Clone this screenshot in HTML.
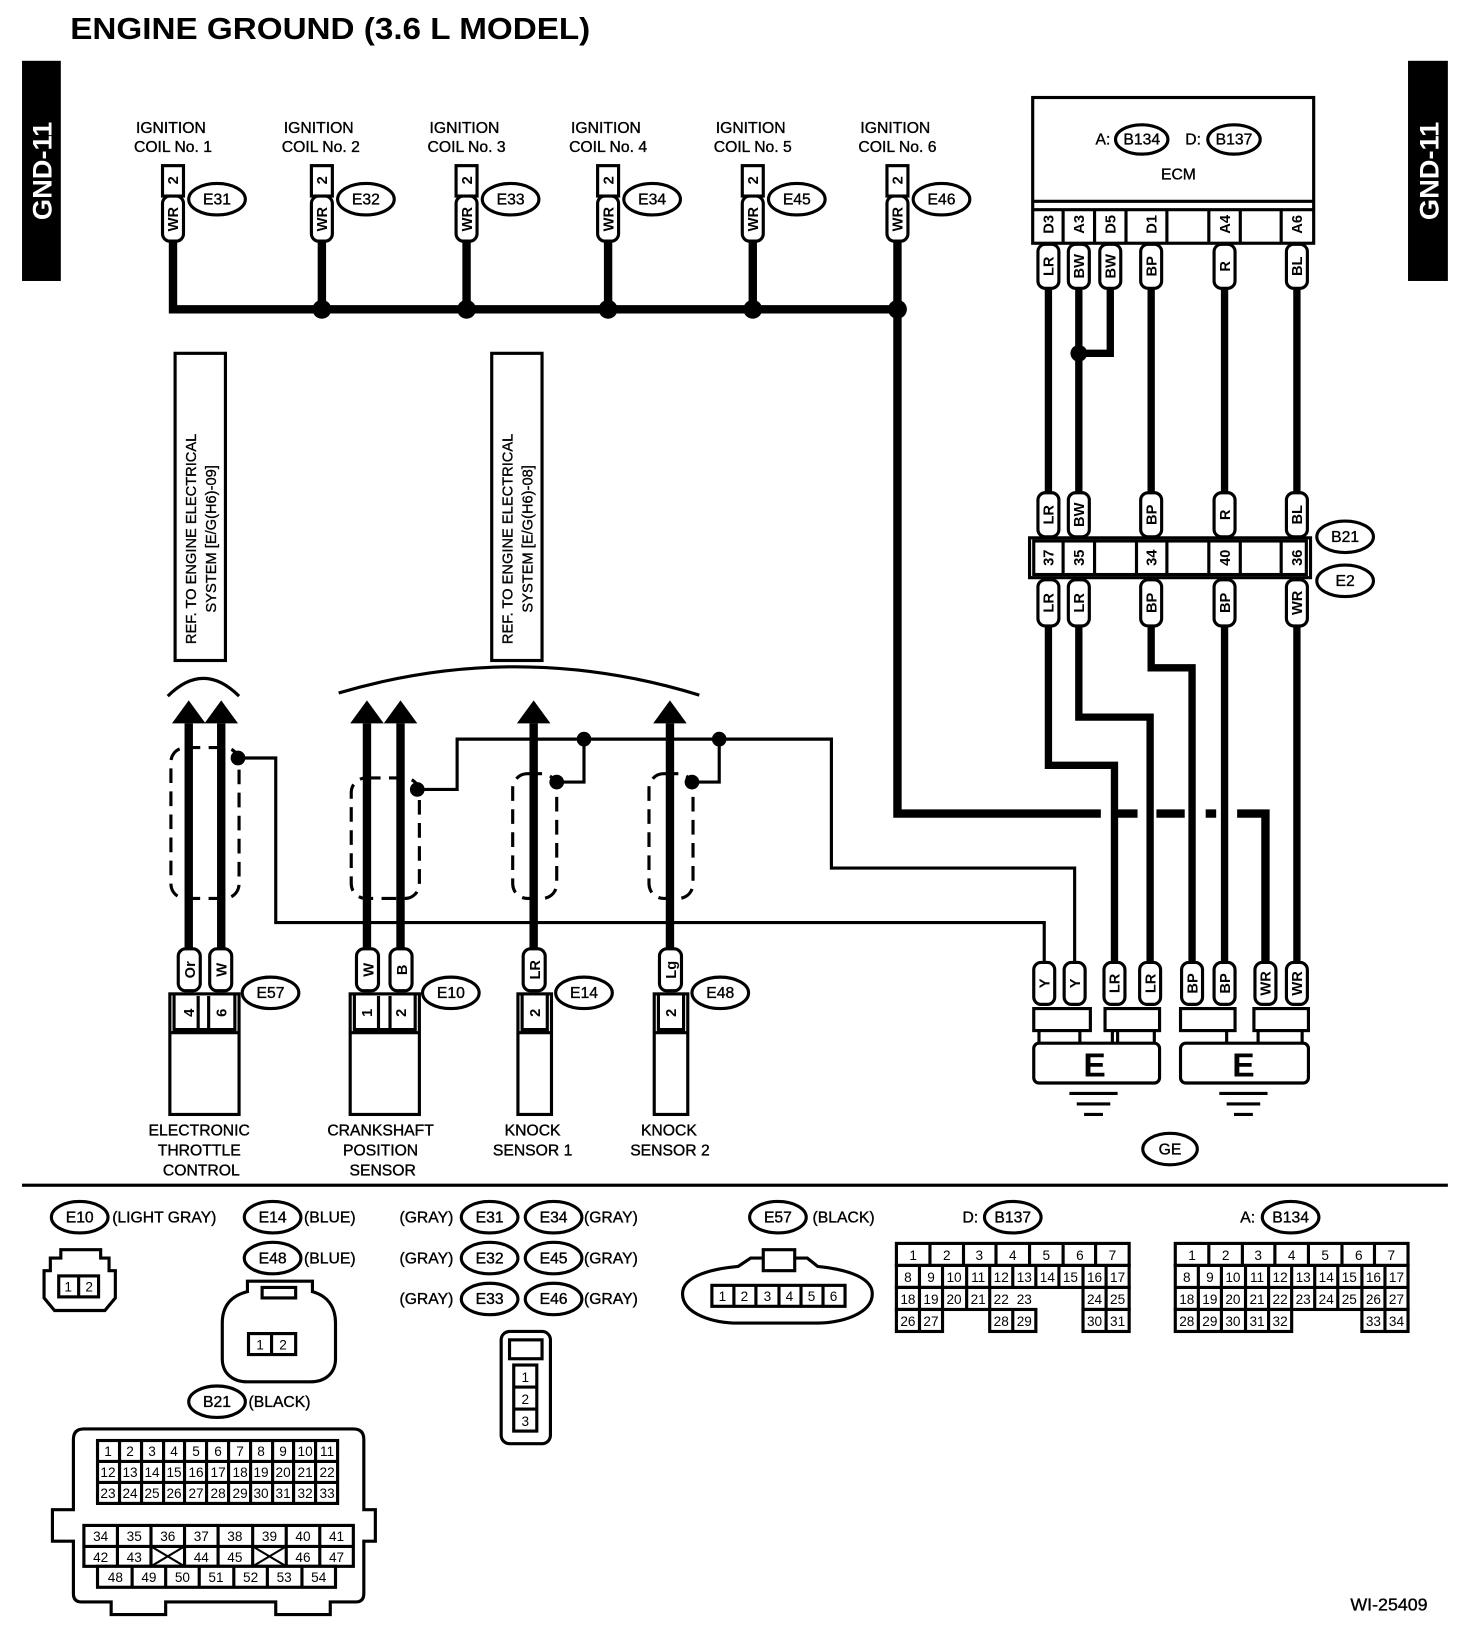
<!DOCTYPE html>
<html><head><meta charset="utf-8"><style>
html,body{margin:0;padding:0;background:#fff}
svg{display:block}
text{font-family:"Liberation Sans",sans-serif;fill:#000}
.s{font-size:15px;stroke:#000;stroke-width:0.35px}
.r{font-size:14px;font-weight:bold}
.g{font-size:14px;stroke:#000;stroke-width:0.3px}
</style></head><body>
<svg width="1472" height="1646" viewBox="0 0 1404 1570" xmlns="http://www.w3.org/2000/svg">
<rect width="1404" height="1570" fill="#fff"/>
<text x="67" y="37" font-size="29" font-weight="bold" textLength="496" lengthAdjust="spacingAndGlyphs">ENGINE GROUND (3.6 L MODEL)</text>
<rect x="21" y="58" width="37" height="210" fill="#000"/>
<text transform="translate(49,163) rotate(-90)" text-anchor="middle" font-size="26" font-weight="bold" style="fill:#fff">GND-11</text>
<rect x="1343" y="58" width="38" height="210" fill="#000"/>
<text transform="translate(1372,163) rotate(-90)" text-anchor="middle" font-size="26" font-weight="bold" style="fill:#fff">GND-11</text>

<g fill="none" stroke="#000">
<path d="M165 230V295H856V776H1050M1064 776H1085M1103 776H1130M1150 776H1160M1180 776H1207V920" stroke-width="8"/>
<path d="M307 230V295M445 230V295M580 230V295M718 230V295M856 230V295" stroke-width="8"/>
<path d="M1000 275V478M1029 275V478M1059 275V337H1029M1098 275V478M1168 275V478M1237 275V478" stroke-width="7"/>
<path d="M1000 597V730H1063V920M1029 597V684H1097V920M1098 597V637H1137V920M1168 597V920M1237 597V920" stroke-width="7"/>
<path d="M180 690V905M211 690V905M350 690V905M382 690V905M509 690V905M639 690V905" stroke-width="8"/>
<path d="M227 723H263V880H996V918M398 753H436V705H793V828H1025V918M557 705V746H531M686 705V746H660M436 705H686" stroke-width="3"/>
<g stroke-width="3" stroke-dasharray="14 8">
<rect x="163" y="713" width="65" height="144" rx="14"/>
<rect x="335" y="742" width="65" height="115" rx="14"/>
<rect x="489" y="738" width="42" height="119" rx="14"/>
<rect x="619" y="738" width="42" height="119" rx="14"/>
</g>
<path d="M160 664Q194 630 228 664" stroke-width="3"/>
<path d="M323 661Q495 610 667 663" stroke-width="3"/>
<rect x="167" y="337" width="48" height="293" stroke-width="3"/>
<rect x="469" y="337" width="48" height="293" stroke-width="3"/>
</g>
<g fill="#000">
<circle cx="307" cy="295" r="9"/><circle cx="445" cy="295" r="9"/><circle cx="580" cy="295" r="9"/><circle cx="718" cy="295" r="9"/><circle cx="856" cy="295" r="9"/>
<circle cx="1029" cy="337" r="8"/>
<circle cx="227" cy="723" r="7"/><circle cx="398" cy="753" r="7"/><circle cx="557" cy="705" r="7"/><circle cx="686" cy="705" r="7"/><circle cx="531" cy="746" r="7"/><circle cx="660" cy="746" r="7"/>
<path d="M180 668L196 690H164ZM211 668L227 690H195Z"/>
<path d="M350 668L366 690H334ZM382 668L398 690H366ZM509 668L525 690H493ZM639 668L655 690H623Z"/>
</g>
<text transform="translate(187,514) rotate(-90)" text-anchor="middle" class="g">REF. TO ENGINE ELECTRICAL</text>
<text transform="translate(206,514) rotate(-90)" text-anchor="middle" class="g">SYSTEM [E/G(H6)-09]</text>
<text transform="translate(489,514) rotate(-90)" text-anchor="middle" class="g">REF. TO ENGINE ELECTRICAL</text>
<text transform="translate(508,514) rotate(-90)" text-anchor="middle" class="g">SYSTEM [E/G(H6)-08]</text>

<g class="s" text-anchor="middle">
<text x="163" y="127">IGNITION</text><text x="165" y="145">COIL No. 1</text>
<text x="304" y="127">IGNITION</text><text x="306" y="145">COIL No. 2</text>
<text x="443" y="127">IGNITION</text><text x="445" y="145">COIL No. 3</text>
<text x="578" y="127">IGNITION</text><text x="580" y="145">COIL No. 4</text>
<text x="716" y="127">IGNITION</text><text x="718" y="145">COIL No. 5</text>
<text x="854" y="127">IGNITION</text><text x="856" y="145">COIL No. 6</text>
</g>
<g fill="#fff" stroke="#000" stroke-width="3">
<rect x="155" y="158" width="20" height="29"/><rect x="155" y="187" width="20" height="43" rx="7"/>
<rect x="297" y="158" width="20" height="29"/><rect x="297" y="187" width="20" height="43" rx="7"/>
<rect x="435" y="158" width="20" height="29"/><rect x="435" y="187" width="20" height="43" rx="7"/>
<rect x="570" y="158" width="20" height="29"/><rect x="570" y="187" width="20" height="43" rx="7"/>
<rect x="708" y="158" width="20" height="29"/><rect x="708" y="187" width="20" height="43" rx="7"/>
<rect x="846" y="158" width="20" height="29"/><rect x="846" y="187" width="20" height="43" rx="7"/>
<ellipse cx="207" cy="190" rx="27" ry="15"/><ellipse cx="349" cy="190" rx="27" ry="15"/><ellipse cx="487" cy="190" rx="27" ry="15"/><ellipse cx="622" cy="190" rx="27" ry="15"/><ellipse cx="760" cy="190" rx="27" ry="15"/><ellipse cx="898" cy="190" rx="27" ry="15"/>
</g>
<g class="r" text-anchor="middle">
<text transform="translate(170,172) rotate(-90)">2</text><text transform="translate(170,209) rotate(-90)">WR</text>
<text transform="translate(312,172) rotate(-90)">2</text><text transform="translate(312,209) rotate(-90)">WR</text>
<text transform="translate(450,172) rotate(-90)">2</text><text transform="translate(450,209) rotate(-90)">WR</text>
<text transform="translate(585,172) rotate(-90)">2</text><text transform="translate(585,209) rotate(-90)">WR</text>
<text transform="translate(723,172) rotate(-90)">2</text><text transform="translate(723,209) rotate(-90)">WR</text>
<text transform="translate(861,172) rotate(-90)">2</text><text transform="translate(861,209) rotate(-90)">WR</text>
</g>
<g class="s" text-anchor="middle">
<text x="207" y="195">E31</text><text x="349" y="195">E32</text><text x="487" y="195">E33</text><text x="622" y="195">E34</text><text x="760" y="195">E45</text><text x="898" y="195">E46</text>
</g>

<g fill="#fff" stroke="#000" stroke-width="3">
<rect x="985" y="93" width="268" height="139"/>
<path d="M985 192H1253M985 200H1253M1014 200V232M1044 200V232M1074 200V232M1113 200V232M1153 200V232M1183 200V232M1222 200V232" fill="none"/>
<ellipse cx="1089" cy="133" rx="25" ry="14"/><ellipse cx="1177" cy="133" rx="25" ry="14"/>
<rect x="990" y="233" width="20" height="42" rx="7"/><rect x="1019" y="233" width="20" height="42" rx="7"/><rect x="1049" y="233" width="20" height="42" rx="7"/><rect x="1088" y="233" width="20" height="42" rx="7"/><rect x="1158" y="233" width="20" height="42" rx="7"/><rect x="1227" y="233" width="20" height="42" rx="7"/>
<rect x="982" y="513" width="268" height="38"/>
<rect x="986" y="516" width="260" height="32"/>
<path d="M1014 516V548M1044 516V548M1084 516V548M1113 516V548M1153 516V548M1183 516V548M1222 516V548" fill="none"/>
<rect x="990" y="470" width="20" height="42" rx="7"/><rect x="1019" y="470" width="20" height="42" rx="7"/><rect x="1088" y="470" width="20" height="42" rx="7"/><rect x="1158" y="470" width="20" height="42" rx="7"/><rect x="1227" y="470" width="20" height="42" rx="7"/>
<rect x="990" y="553" width="20" height="44" rx="7"/><rect x="1019" y="553" width="20" height="44" rx="7"/><rect x="1088" y="553" width="20" height="44" rx="7"/><rect x="1158" y="553" width="20" height="44" rx="7"/><rect x="1227" y="553" width="20" height="44" rx="7"/>
<ellipse cx="1283" cy="512" rx="27" ry="15"/><ellipse cx="1283" cy="554" rx="27" ry="15"/>
<rect x="986" y="918" width="20" height="40" rx="7"/><rect x="1015" y="918" width="20" height="40" rx="7"/><rect x="1053" y="918" width="20" height="40" rx="7"/><rect x="1087" y="918" width="20" height="40" rx="7"/><rect x="1127" y="918" width="20" height="40" rx="7"/><rect x="1158" y="918" width="20" height="40" rx="7"/><rect x="1197" y="918" width="20" height="40" rx="7"/><rect x="1227" y="918" width="20" height="40" rx="7"/>
<rect x="986" y="962" width="54" height="21"/><rect x="1054" y="962" width="52" height="21"/><rect x="1126" y="962" width="52" height="21"/><rect x="1196" y="962" width="52" height="21"/>
<rect x="986" y="995" width="120" height="38" rx="5"/><rect x="1126" y="995" width="122" height="38" rx="5"/>
<path d="M1030 983V995M1061 983V995M1101 983V995M1170 983V995M1200 983V995M1242 983V995M991 983V995M1066 983V995" fill="none"/>
<ellipse cx="1116" cy="1096" rx="26" ry="15"/>
</g>
<g stroke="#000" stroke-width="3"><path d="M1020 1043H1066M1027 1053H1059M1034 1063H1052M1163 1043H1209M1170 1053H1202M1177 1063H1195"/></g>
<g class="s" text-anchor="middle">
<text x="1052" y="138">A:</text><text x="1089" y="138">B134</text><text x="1138" y="138">D:</text><text x="1177" y="138">B137</text>
<text x="1124" y="171">ECM</text>
<text x="1283" y="517">B21</text><text x="1283" y="559">E2</text><text x="1116" y="1101">GE</text>
</g>
<text x="1044" y="1027" text-anchor="middle" font-size="32" font-weight="bold">E</text>
<text x="1186" y="1027" text-anchor="middle" font-size="32" font-weight="bold">E</text>
<g class="r" text-anchor="middle">
<text transform="translate(1005,214) rotate(-90)">D3</text><text transform="translate(1034,214) rotate(-90)">A3</text><text transform="translate(1064,214) rotate(-90)">D5</text><text transform="translate(1103,214) rotate(-90)">D1</text><text transform="translate(1173,214) rotate(-90)">A4</text><text transform="translate(1242,214) rotate(-90)">A6</text>
<text transform="translate(1005,254) rotate(-90)">LR</text><text transform="translate(1034,254) rotate(-90)">BW</text><text transform="translate(1064,254) rotate(-90)">BW</text><text transform="translate(1103,254) rotate(-90)">BP</text><text transform="translate(1173,254) rotate(-90)">R</text><text transform="translate(1242,254) rotate(-90)">BL</text>
<text transform="translate(1005,491) rotate(-90)">LR</text><text transform="translate(1034,491) rotate(-90)">BW</text><text transform="translate(1103,491) rotate(-90)">BP</text><text transform="translate(1173,491) rotate(-90)">R</text><text transform="translate(1242,491) rotate(-90)">BL</text>
<text transform="translate(1005,532) rotate(-90)">37</text><text transform="translate(1034,532) rotate(-90)">35</text><text transform="translate(1103,532) rotate(-90)">34</text><text transform="translate(1173,532) rotate(-90)">40</text><text transform="translate(1242,532) rotate(-90)">36</text>
<text transform="translate(1005,575) rotate(-90)">LR</text><text transform="translate(1034,575) rotate(-90)">LR</text><text transform="translate(1103,575) rotate(-90)">BP</text><text transform="translate(1173,575) rotate(-90)">BP</text><text transform="translate(1242,575) rotate(-90)">WR</text>
<text transform="translate(1001,938) rotate(-90)">Y</text><text transform="translate(1030,938) rotate(-90)">Y</text><text transform="translate(1068,938) rotate(-90)">LR</text><text transform="translate(1102,938) rotate(-90)">LR</text><text transform="translate(1142,938) rotate(-90)">BP</text><text transform="translate(1173,938) rotate(-90)">BP</text><text transform="translate(1212,938) rotate(-90)">WR</text><text transform="translate(1242,938) rotate(-90)">WR</text>
</g>

<g fill="#fff" stroke="#000" stroke-width="3">
<rect x="170" y="905" width="21" height="40" rx="7"/><rect x="200" y="905" width="21" height="40" rx="7"/>
<rect x="340" y="905" width="21" height="40" rx="7"/><rect x="372" y="905" width="21" height="40" rx="7"/>
<rect x="499" y="905" width="21" height="40" rx="7"/><rect x="629" y="905" width="21" height="40" rx="7"/>
<rect x="162" y="948" width="66" height="115"/><path d="M162 985H228M166 948V982H224V948M189 950V982M199 950V982" fill="none"/>
<rect x="334" y="948" width="66" height="115"/><path d="M334 985H400M338 948V982H396V948M361 950V982M372 950V982" fill="none"/>
<rect x="494" y="948" width="32" height="115"/><path d="M494 985H526M498 948V982H522V948" fill="none"/>
<rect x="624" y="948" width="32" height="115"/><path d="M624 985H656M628 948V982H652V948" fill="none"/>
<ellipse cx="258" cy="947" rx="27" ry="15"/><ellipse cx="430" cy="947" rx="27" ry="15"/><ellipse cx="557" cy="947" rx="27" ry="15"/><ellipse cx="687" cy="947" rx="27" ry="15"/>
</g>
<g class="r" text-anchor="middle">
<text transform="translate(186,925) rotate(-90)">Or</text><text transform="translate(216,925) rotate(-90)">W</text>
<text transform="translate(356,925) rotate(-90)">W</text><text transform="translate(388,925) rotate(-90)">B</text>
<text transform="translate(515,925) rotate(-90)">LR</text><text transform="translate(645,925) rotate(-90)">Lg</text>
<text transform="translate(185,966) rotate(-90)">4</text><text transform="translate(216,966) rotate(-90)">6</text>
<text transform="translate(355,966) rotate(-90)">1</text><text transform="translate(387,966) rotate(-90)">2</text>
<text transform="translate(515,966) rotate(-90)">2</text><text transform="translate(645,966) rotate(-90)">2</text>
</g>
<g class="s" text-anchor="middle">
<text x="258" y="952">E57</text><text x="430" y="952">E10</text><text x="557" y="952">E14</text><text x="687" y="952">E48</text>
<text x="190" y="1083">ELECTRONIC</text><text x="190" y="1102">THROTTLE</text><text x="192" y="1121">CONTROL</text>
<text x="363" y="1083">CRANKSHAFT</text><text x="363" y="1102">POSITION</text><text x="365" y="1121">SENSOR</text>
<text x="508" y="1083">KNOCK</text><text x="508" y="1102">SENSOR 1</text>
<text x="638" y="1083">KNOCK</text><text x="639" y="1102">SENSOR 2</text>
</g>

<rect x="21" y="1129" width="1360" height="3" fill="#000"/>

<g fill="#fff" stroke="#000" stroke-width="3">
<ellipse cx="76" cy="1161" rx="27" ry="15"/><ellipse cx="260" cy="1161" rx="27" ry="15"/><ellipse cx="260" cy="1200" rx="27" ry="15"/><ellipse cx="207" cy="1337" rx="27" ry="15"/>
<ellipse cx="467" cy="1161" rx="27" ry="15"/><ellipse cx="528" cy="1161" rx="27" ry="15"/><ellipse cx="467" cy="1200" rx="27" ry="15"/><ellipse cx="528" cy="1200" rx="27" ry="15"/><ellipse cx="467" cy="1239" rx="27" ry="15"/><ellipse cx="528" cy="1239" rx="27" ry="15"/>
<ellipse cx="742" cy="1161" rx="27" ry="15"/><ellipse cx="966" cy="1161" rx="27" ry="15"/><ellipse cx="1231" cy="1161" rx="27" ry="15"/>
<path d="M58 1192H96V1200H104V1212H110V1238L100 1250H52L42 1238V1212H48V1200H58Z"/>
<rect x="56" y="1217" width="38" height="20"/><path d="M75 1217V1237" fill="none"/>
<path d="M236 1222H298V1232C312 1236 320 1246 320 1262V1296C320 1310 310 1318 296 1318H236C222 1318 212 1310 212 1296V1262C212 1246 220 1236 236 1232Z"/>
<rect x="250" y="1228" width="32" height="10"/>
<rect x="237" y="1272" width="45" height="20"/><path d="M259 1272V1292" fill="none"/>
<rect x="478" y="1270" width="47" height="107" rx="8"/><rect x="486" y="1278" width="31" height="18"/>
<rect x="490" y="1302" width="22" height="63"/><path d="M490 1323H512M490 1344H512" fill="none"/>
<path d="M716 1200H770L780 1208C800 1210 832 1216 832 1234C832 1254 800 1262 780 1262H704C682 1262 651 1254 651 1234C651 1216 682 1210 704 1208Z"/>
<rect x="728" y="1192" width="30" height="20"/>
<rect x="679" y="1226" width="127" height="20"/><path d="M700 1226V1246M721 1226V1246M743 1226V1246M764 1226V1246M785 1226V1246" fill="none"/>
<path d="M80 1363H337Q347 1363 347 1373V1440H358V1470H347V1520Q347 1528 339 1528H315V1540H263V1528H158V1540H106V1528H78Q70 1528 70 1520V1470H50V1440H70V1373Q70 1363 80 1363Z"/>
<rect x="93" y="1374" width="229" height="60"/>
<rect x="80" y="1455" width="257" height="39"/><rect x="93" y="1494" width="227" height="20"/>
<path d="M93 1394H322M93 1414H322M114 1374V1434M135 1374V1434M156 1374V1434M176 1374V1434M197 1374V1434M218 1374V1434M239 1374V1434M260 1374V1434M280 1374V1434M301 1374V1434" fill="none"/>
<path d="M80 1475H337M112 1455V1494M144 1455V1494M176 1455V1494M208 1455V1494M241 1455V1494M273 1455V1494M305 1455V1494M126 1494V1514M158 1494V1514M190 1494V1514M223 1494V1514M255 1494V1514M288 1494V1514" fill="none"/>
<path d="M144 1475L176 1494M176 1475L144 1494M241 1475L273 1494M273 1475L241 1494" fill="none" stroke-width="2"/>
<rect x="855" y="1186" width="222" height="21"/>
<path d="M887 1186V1207M919 1186V1207M950 1186V1207M982 1186V1207M1014 1186V1207M1045 1186V1207" fill="none"/>
<rect x="855" y="1207" width="222" height="21"/>
<path d="M877 1207V1228M899 1207V1228M922 1207V1228M944 1207V1228M966 1207V1228M988 1207V1228M1010 1207V1228M1033 1207V1228M1055 1207V1228" fill="none"/>
<rect x="855" y="1228" width="89" height="21"/><path d="M877 1228V1249M899 1228V1249M922 1228V1249" fill="none"/>
<rect x="1033" y="1228" width="44" height="21"/><path d="M1055 1228V1249" fill="none"/>
<rect x="855" y="1249" width="44" height="21"/><path d="M877 1249V1270" fill="none"/>
<rect x="944" y="1249" width="44" height="21"/><path d="M966 1249V1270" fill="none"/>
<rect x="1033" y="1249" width="44" height="21"/><path d="M1055 1249V1270" fill="none"/>
<rect x="1121" y="1186" width="222" height="21"/>
<path d="M1153 1186V1207M1185 1186V1207M1216 1186V1207M1248 1186V1207M1280 1186V1207M1311 1186V1207" fill="none"/>
<rect x="1121" y="1207" width="222" height="42"/>
<path d="M1121 1228H1343M1143 1207V1249M1165 1207V1249M1188 1207V1249M1210 1207V1249M1232 1207V1249M1254 1207V1249M1276 1207V1249M1299 1207V1249M1321 1207V1249" fill="none"/>
<rect x="1121" y="1249" width="111" height="21"/><path d="M1143 1249V1270M1165 1249V1270M1188 1249V1270M1210 1249V1270" fill="none"/>
<rect x="1299" y="1249" width="44" height="21"/><path d="M1321 1249V1270" fill="none"/>
</g>
<g class="s">
<text x="76" y="1166" text-anchor="middle">E10</text><text x="107" y="1166">(LIGHT GRAY)</text>
<text x="260" y="1166" text-anchor="middle">E14</text><text x="290" y="1166">(BLUE)</text>
<text x="260" y="1205" text-anchor="middle">E48</text><text x="290" y="1205">(BLUE)</text>
<text x="207" y="1342" text-anchor="middle">B21</text><text x="237" y="1342">(BLACK)</text>
<text x="381" y="1166">(GRAY)</text><text x="467" y="1166" text-anchor="middle">E31</text><text x="528" y="1166" text-anchor="middle">E34</text><text x="557" y="1166">(GRAY)</text>
<text x="381" y="1205">(GRAY)</text><text x="467" y="1205" text-anchor="middle">E32</text><text x="528" y="1205" text-anchor="middle">E45</text><text x="557" y="1205">(GRAY)</text>
<text x="381" y="1244">(GRAY)</text><text x="467" y="1244" text-anchor="middle">E33</text><text x="528" y="1244" text-anchor="middle">E46</text><text x="557" y="1244">(GRAY)</text>
<text x="742" y="1166" text-anchor="middle">E57</text><text x="775" y="1166">(BLACK)</text>
<text x="918" y="1166">D:</text><text x="966" y="1166" text-anchor="middle">B137</text>
<text x="1183" y="1166">A:</text><text x="1231" y="1166" text-anchor="middle">B134</text>
<text x="1288" y="1536" font-size="17">WI-25409</text>
</g>
<g font-size="13" text-anchor="middle">
<text x="65" y="1232">1</text><text x="85" y="1232">2</text>
<text x="248" y="1287">1</text><text x="270" y="1287">2</text>
<text x="501" y="1318">1</text><text x="501" y="1339">2</text><text x="501" y="1360">3</text>
<text x="689" y="1241">1</text><text x="710" y="1241">2</text><text x="732" y="1241">3</text><text x="753" y="1241">4</text><text x="774" y="1241">5</text><text x="795" y="1241">6</text>
<text x="871" y="1202">1</text><text x="903" y="1202">2</text><text x="934" y="1202">3</text><text x="966" y="1202">4</text><text x="998" y="1202">5</text><text x="1030" y="1202">6</text><text x="1061" y="1202">7</text>
<text x="866" y="1223">8</text><text x="888" y="1223">9</text><text x="910" y="1223">10</text><text x="933" y="1223">11</text><text x="955" y="1223">12</text><text x="977" y="1223">13</text><text x="999" y="1223">14</text><text x="1021" y="1223">15</text><text x="1044" y="1223">16</text><text x="1066" y="1223">17</text>
<text x="866" y="1244">18</text><text x="888" y="1244">19</text><text x="910" y="1244">20</text><text x="933" y="1244">21</text><text x="955" y="1244">22</text><text x="977" y="1244">23</text><text x="1044" y="1244">24</text><text x="1066" y="1244">25</text>
<text x="866" y="1265">26</text><text x="888" y="1265">27</text><text x="955" y="1265">28</text><text x="977" y="1265">29</text><text x="1044" y="1265">30</text><text x="1066" y="1265">31</text>
<text x="1137" y="1202">1</text><text x="1169" y="1202">2</text><text x="1200" y="1202">3</text><text x="1232" y="1202">4</text><text x="1264" y="1202">5</text><text x="1296" y="1202">6</text><text x="1327" y="1202">7</text>
<text x="1132" y="1223">8</text><text x="1154" y="1223">9</text><text x="1176" y="1223">10</text><text x="1199" y="1223">11</text><text x="1221" y="1223">12</text><text x="1243" y="1223">13</text><text x="1265" y="1223">14</text><text x="1287" y="1223">15</text><text x="1310" y="1223">16</text><text x="1332" y="1223">17</text>
<text x="1132" y="1244">18</text><text x="1154" y="1244">19</text><text x="1176" y="1244">20</text><text x="1199" y="1244">21</text><text x="1221" y="1244">22</text><text x="1243" y="1244">23</text><text x="1265" y="1244">24</text><text x="1287" y="1244">25</text><text x="1310" y="1244">26</text><text x="1332" y="1244">27</text>
<text x="1132" y="1265">28</text><text x="1154" y="1265">29</text><text x="1176" y="1265">30</text><text x="1199" y="1265">31</text><text x="1221" y="1265">32</text><text x="1310" y="1265">33</text><text x="1332" y="1265">34</text>
<text x="103" y="1389">1</text><text x="124" y="1389">2</text><text x="145" y="1389">3</text><text x="166" y="1389">4</text><text x="187" y="1389">5</text><text x="208" y="1389">6</text><text x="229" y="1389">7</text><text x="249" y="1389">8</text><text x="270" y="1389">9</text><text x="291" y="1389">10</text><text x="312" y="1389">11</text>
<text x="103" y="1409">12</text><text x="124" y="1409">13</text><text x="145" y="1409">14</text><text x="166" y="1409">15</text><text x="187" y="1409">16</text><text x="208" y="1409">17</text><text x="229" y="1409">18</text><text x="249" y="1409">19</text><text x="270" y="1409">20</text><text x="291" y="1409">21</text><text x="312" y="1409">22</text>
<text x="103" y="1429">23</text><text x="124" y="1429">24</text><text x="145" y="1429">25</text><text x="166" y="1429">26</text><text x="187" y="1429">27</text><text x="208" y="1429">28</text><text x="229" y="1429">29</text><text x="249" y="1429">30</text><text x="270" y="1429">31</text><text x="291" y="1429">32</text><text x="312" y="1429">33</text>
<text x="96" y="1470">34</text><text x="128" y="1470">35</text><text x="160" y="1470">36</text><text x="192" y="1470">37</text><text x="224" y="1470">38</text><text x="257" y="1470">39</text><text x="289" y="1470">40</text><text x="321" y="1470">41</text>
<text x="96" y="1490">42</text><text x="128" y="1490">43</text><text x="192" y="1490">44</text><text x="224" y="1490">45</text><text x="289" y="1490">46</text><text x="321" y="1490">47</text>
<text x="110" y="1509">48</text><text x="142" y="1509">49</text><text x="174" y="1509">50</text><text x="206" y="1509">51</text><text x="239" y="1509">52</text><text x="271" y="1509">53</text><text x="304" y="1509">54</text>
</g>
</svg>
</body></html>
